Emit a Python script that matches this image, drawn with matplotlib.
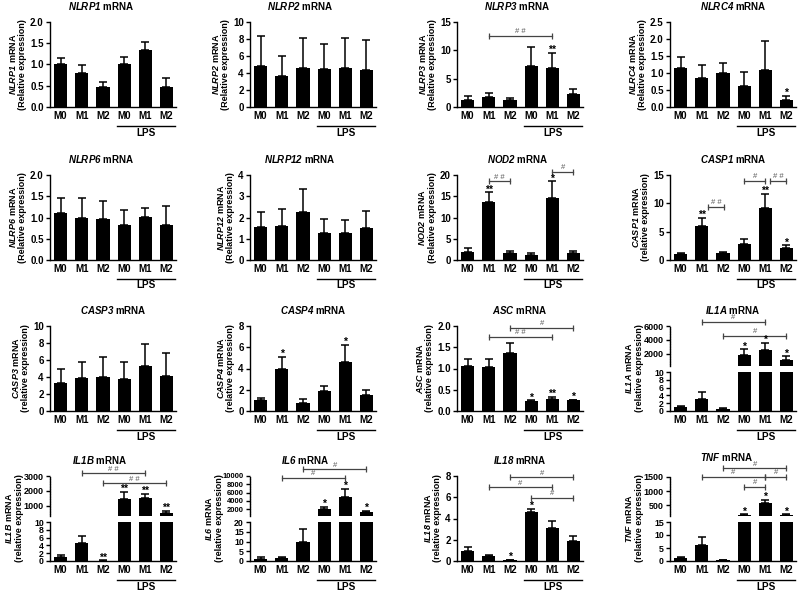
import numpy as np
import matplotlib
matplotlib.use("Agg")
import matplotlib.pyplot as plt
from matplotlib.ticker import FormatStrFormatter, FixedLocator, MultipleLocator
import matplotlib.transforms as mtransforms

plt.rcParams['font.family'] = ['Liberation Sans', 'DejaVu Sans']
plt.rcParams['font.weight'] = 'bold'
plt.rcParams['mathtext.fontset'] = 'custom'
plt.rcParams['mathtext.it'] = 'Liberation Sans:italic:bold'
plt.rcParams['mathtext.rm'] = 'Liberation Sans:italic:bold'
plt.rcParams['mathtext.bf'] = 'Liberation Sans:italic:bold'

groups = ["M0", "M1", "M2", "M0", "M1", "M2"]

nlrp1_mean = [1.02, 0.80, 0.46, 1.02, 1.33, 0.46]
nlrp1_err = [0.13, 0.18, 0.13, 0.15, 0.20, 0.22]
nlrp2_mean = [4.8, 3.6, 4.6, 4.5, 4.6, 4.3]
nlrp2_err = [3.6, 2.4, 3.5, 2.9, 3.5, 3.6]
nlrp3_mean = [1.3, 1.8, 1.2, 7.2, 6.8, 2.3]
nlrp3_err = [0.6, 0.6, 0.4, 3.4, 2.7, 0.8]
nlrc4_mean = [1.14, 0.86, 1.00, 0.62, 1.10, 0.22]
nlrc4_err = [0.33, 0.38, 0.29, 0.40, 0.83, 0.11]
nlrp6_mean = [1.10, 1.00, 0.97, 0.83, 1.02, 0.83]
nlrp6_err = [0.37, 0.47, 0.43, 0.34, 0.21, 0.44]
nlrp12_mean = [1.55, 1.60, 2.25, 1.25, 1.25, 1.50]
nlrp12_err = [0.70, 0.80, 1.10, 0.70, 0.65, 0.80]
nod2_mean = [2.0, 13.6, 1.6, 1.1, 14.5, 1.6]
nod2_err = [0.9, 2.3, 0.6, 0.5, 4.0, 0.6]
casp1_mean = [1.0, 6.0, 1.2, 2.9, 9.1, 2.1]
casp1_err = [0.3, 1.5, 0.3, 0.8, 2.6, 0.5]
casp3_mean = [3.3, 3.9, 4.0, 3.8, 5.3, 4.1]
casp3_err = [1.7, 1.9, 2.4, 2.0, 2.6, 2.7]
casp4_mean = [1.0, 4.0, 0.8, 1.9, 4.6, 1.5]
casp4_err = [0.2, 1.1, 0.3, 0.5, 1.6, 0.5]
asc_mean = [1.05, 1.04, 1.37, 0.23, 0.29, 0.25]
asc_err = [0.18, 0.19, 0.23, 0.02, 0.05, 0.02]
il1a_mean = [0.9, 3.2, 0.4, 1800, 2500, 1100]
il1a_err = [0.5, 1.8, 0.3, 800, 1000, 500]
il1b_mean = [1.0, 4.5, 0.1, 1480, 1500, 500]
il1b_err = [0.5, 1.8, 0.05, 440, 330, 180]
il6_mean = [1.0, 1.5, 10.0, 2000, 4900, 1300]
il6_err = [0.8, 0.7, 6.5, 600, 1900, 300]
il18_mean = [0.95, 0.50, 0.07, 4.60, 3.10, 1.90]
il18_err = [0.35, 0.10, 0.05, 0.30, 0.70, 0.50]
tnf_mean = [1.0, 6.0, 0.2, 150, 580, 150]
tnf_err = [0.7, 3.2, 0.2, 25, 110, 25]

# significance marks
nlrp3_stars = ["", "", "", "", "**", ""]
nlrc4_stars = ["", "", "", "", "", "*"]
nod2_stars = ["", "**", "", "", "*", ""]
casp1_stars = ["", "**", "", "", "**", "*"]
casp4_stars = ["", "*", "", "", "*", ""]
asc_stars = ["", "", "", "*", "**", "*"]
il1a_stars = ["", "", "", "*", "*", "*"]
il1b_stars = ["", "", "**", "**", "**", "**"]
il6_stars = ["", "", "", "*", "*", "*"]
il18_stars = ["", "", "*", "*", "", ""]
tnf_stars = ["", "", "", "*", "*", "*"]

# brackets: (from group, to group, height, label)
nlrp3_brackets = [(1, 4, 12.6, "# #")]
nod2_brackets = [(1, 2, 18.6, "# #"), (4, 5, 20.8, "#")]
casp1_brackets = [(1.3, 2.05, 9.4, "# #"), (3, 4, 14.0, "#"), (4.2, 5, 14.0, "# #")]
asc_brackets = [(2, 5, 1.96, "#"), (1, 4, 1.75, "# #")]
il1a_brackets = [(1, 4, 6600, "#"), (2, 5, 4600, "#")]
il1b_brackets = [(1, 4, 3200, "# #"), (2, 5, 2500, "# #")]
il6_brackets = [(2, 5, 11600, "#"), (1, 4, 9600, "#")]
il18_brackets = [(2, 5, 7.9, "#"), (1, 4, 6.95, "#"), (3, 5, 5.95, "#")]
tnf_brackets = [(2, 5, 1800, "#"), (1, 4, 1500, "#"), (4, 5, 1500, "#"), (3, 4, 1150, "#")]

FW, FH = 800, 592
fig = plt.figure(figsize=(FW / 100, FH / 100), dpi=100)

col_left = [50, 250, 457, 670]
row_top = [22, 175, 326, 476]
AW, AH = 126, 85


def rect(l, t, w, h):
    return [l / FW, 1 - (t + h) / FH, w / FW, h / FH]


def draw_bars(ax, mean, err, idx=None):
    mean = np.asarray(mean, float)
    err = np.asarray(err, float)
    if idx is None:
        idx = np.arange(len(mean))
    idx = np.asarray(idx, int)
    ax.bar(idx, mean[idx], width=0.62, color='black', zorder=2)
    if len(idx):
        ax.errorbar(idx, mean[idx], yerr=[np.zeros(len(idx)), err[idx]], fmt='none',
                    ecolor='black', elinewidth=1.1, capsize=3.2, capthick=1.1, zorder=1)
    ax.set_xlim(-0.5, 5.45)


def style(ax, fs=7):
    for s in ['top', 'right']:
        ax.spines[s].set_visible(False)
    for s in ['left', 'bottom']:
        ax.spines[s].set_linewidth(1.0)
    ax.tick_params(axis='y', length=3, width=1.0, labelsize=fs, pad=1.5)
    ax.tick_params(axis='x', length=0, labelsize=7, pad=3)


def star(ax, i, y, m):
    ax.annotate(m, (i, y), xytext=(0, -1.5), textcoords='offset points',
                ha='center', va='bottom', fontsize=7.5, fontweight='bold',
                annotation_clip=False)


def stars(ax, mean, err, marks, idx=None):
    for i, m in enumerate(marks):
        if m and (idx is None or i in idx):
            star(ax, i, mean[i] + err[i], m)


def brackets(ax, blist):
    for x1, x2, y, lab in blist:
        ax.plot([x1, x2], [y, y], color='#444444', lw=0.9, marker='|',
                markersize=4, markeredgewidth=0.9, clip_on=False)
        ax.annotate(lab, ((x1 + x2) / 2, y), xytext=(0, 0.3), textcoords='offset points',
                    ha='center', va='bottom', fontsize=5.5, fontweight='normal',
                    color='#555555', annotation_clip=False)


def lps(ax, bottom_px):
    tr = mtransforms.blended_transform_factory(ax.transData, fig.transFigure)
    y = 1 - (bottom_px + 18.5) / FH
    ax.plot([2.68, 5.4], [y, y], color='black', lw=1.0, transform=tr, clip_on=False)
    ax.text(4.05, 1 - (bottom_px + 25.5) / FH, "LPS", transform=tr, ha='center',
            va='center', fontsize=7.2, fontweight='bold')


def gene_txt(gene):
    return r"$\mathrm{" + gene + "}$ mRNA"


def title(l, t, gene, dx=0, dy=0):
    fig.text((l + AW / 2 + dx) / FW, 1 - (t - 16 + dy) / FH, gene_txt(gene),
             ha='center', va='center', fontsize=7, fontweight='bold')


def simple(r, c, gene, mean, err, ylim, step, fmt, cap, marks=None, blist=None, tdx=0):
    l, t = col_left[c], row_top[r]
    ax = fig.add_axes(rect(l, t, AW, AH))
    draw_bars(ax, mean, err)
    ax.set_ylim(*ylim)
    ax.yaxis.set_major_locator(MultipleLocator(step))
    ax.yaxis.set_major_formatter(FormatStrFormatter(fmt))
    ax.set_xticks(np.arange(6))
    ax.set_xticklabels(groups, fontweight='bold')
    style(ax)
    ax.set_ylabel(gene_txt(gene) + "\n(" + cap + " expression)",
                  fontsize=6.5, fontweight='bold', labelpad=2, linespacing=1.1)
    if marks:
        stars(ax, mean, err, marks)
    if blist:
        brackets(ax, blist)
    lps(ax, t + AH)
    title(l, t, gene, tdx)
    return ax


def broken(r, c, gene, mean, err, low_ylim, low_ticks, up_ylim, up_ticks, marks,
           blist, up_fs=6.5, lab_dx=-0.21, tdx=0, tdy=0):
    l, t = col_left[c], row_top[r]
    up_h, gap = 40, 6
    low_h = AH - up_h - gap
    axu = fig.add_axes(rect(l, t, AW, up_h))
    axl = fig.add_axes(rect(l, t + up_h + gap, AW, low_h))
    hi = [i for i in range(len(mean)) if mean[i] > up_ylim[0]]
    lo = [i for i in range(len(mean)) if mean[i] <= low_ylim[1]]
    draw_bars(axu, mean, err, hi)
    axl.bar(np.arange(len(mean)), mean, width=0.62, color='black', zorder=2)
    draw_bars(axl, mean, err, lo)
    style(axu, fs=6.3)
    style(axl, fs=6.3)
    axl.set_ylim(*low_ylim)
    axl.yaxis.set_major_locator(FixedLocator(low_ticks))
    axl.set_xticks(np.arange(6))
    axl.set_xticklabels(groups, fontweight='bold')
    axu.set_ylim(*up_ylim)
    axu.yaxis.set_major_locator(FixedLocator(up_ticks))
    axu.tick_params(axis='y', labelsize=up_fs)
    axu.spines['bottom'].set_visible(False)
    axu.spines['left'].set_linestyle((0, (1, 0.8)))
    axu.set_xticks([])
    axl.set_ylabel(gene_txt(gene) + "\n(relative expression)",
                   fontsize=6.5, fontweight='bold', linespacing=1.1)
    axl.yaxis.set_label_coords(lab_dx, AH / 2 / low_h)
    stars(axu, mean, err, marks, hi)
    stars(axl, mean, err, marks, lo)
    brackets(axu, blist)
    lps(axl, t + AH)
    title(l, t, gene, tdx, tdy)


simple(0, 0, "NLRP1", nlrp1_mean, nlrp1_err, (0, 2.0), 0.5, '%.1f', "Relative", tdx=-12)
simple(0, 1, "NLRP2", nlrp2_mean, nlrp2_err, (0, 10), 2, '%d', "Relative", tdx=-13)
simple(0, 2, "NLRP3", nlrp3_mean, nlrp3_err, (0, 15), 5, '%d', "Relative",
       nlrp3_stars, nlrp3_brackets, tdx=-3)
simple(0, 3, "NLRC4", nlrc4_mean, nlrc4_err, (0, 2.5), 0.5, '%.1f', "Relative",
       nlrc4_stars)
simple(1, 0, "NLRP6", nlrp6_mean, nlrp6_err, (0, 2.0), 0.5, '%.1f', "Relative", tdx=-12)
simple(1, 1, "NLRP12", nlrp12_mean, nlrp12_err, (0, 4), 1, '%d', "Relative", tdx=-13)
simple(1, 2, "NOD2", nod2_mean, nod2_err, (0, 20), 5, '%d', "Relative",
       nod2_stars, nod2_brackets, tdx=-2)
simple(1, 3, "CASP1", casp1_mean, casp1_err, (0, 15), 5, '%d', "relative",
       casp1_stars, casp1_brackets)
simple(2, 0, "CASP3", casp3_mean, casp3_err, (0, 10), 2, '%d', "relative")
simple(2, 1, "CASP4", casp4_mean, casp4_err, (0, 8), 2, '%d', "relative",
       casp4_stars)
simple(2, 2, "ASC", asc_mean, asc_err, (0, 2.0), 0.5, '%.1f', "relative",
       asc_stars, asc_brackets)
broken(2, 3, "IL1A", il1a_mean, il1a_err, (0, 10), [0, 2, 4, 6, 8, 10],
       (190, 6000), [2000, 4000, 6000], il1a_stars, il1a_brackets)
broken(3, 0, "IL1B", il1b_mean, il1b_err, (0, 10), [0, 2, 4, 6, 8, 10],
       (330, 3000), [1000, 2000, 3000], il1b_stars, il1b_brackets, tdx=-13)
broken(3, 1, "IL6", il6_mean, il6_err, (0, 20), [0, 5, 10, 15, 20],
       (330, 10000), [2000, 4000, 6000, 8000, 10000], il6_stars, il6_brackets,
       up_fs=5.5, tdx=-8)
simple(3, 2, "IL18", il18_mean, il18_err, (0, 8), 2, '%d', "relative",
       il18_stars, il18_brackets)
broken(3, 3, "TNF", tnf_mean, tnf_err, (0, 15), [0, 5, 10, 15],
       (120, 1530), [500, 1000, 1500], tnf_stars, tnf_brackets, tdx=-6, tdy=-3)

fig.savefig("out.png", dpi=100)
